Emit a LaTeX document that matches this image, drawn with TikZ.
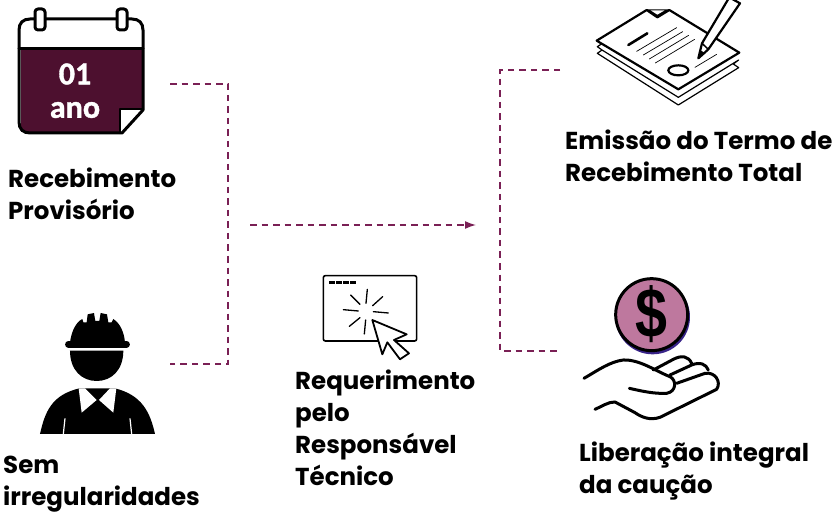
\documentclass[tikz,border=0pt]{standalone}
\usepackage{fontspec}
\setmainfont{Poppins}
\newfontfamily\iconfont[BoldFeatures={FakeBold=1.2}]{Carlito}
\usetikzlibrary{arrows.meta}
\definecolor{wine}{HTML}{4D102F}
\definecolor{dash}{HTML}{7A2055}
\definecolor{coin}{HTML}{BE789E}
\tikzset{
  label/.style={anchor=north west,align=left,inner sep=0pt,font=\fontsize{24.5}{32}\selectfont\bfseries,text=black},
  conn/.style={draw=dash,line width=1.5pt,dash pattern=on 6.5pt off 5pt},
  icon/.style={draw=black,line width=3pt,line join=round,line cap=round},
  thin icon/.style={draw=black,line width=1pt,line cap=round},
  z3/.style={x=0.3333pt,y=-0.3333pt}
}
\begin{document}
\begin{tikzpicture}[x=1pt,y=-1pt]
\useasboundingbox (0,0) rectangle (838,513);
\fill[white] (0,0) rectangle (838,513);

% connectors
\coordinate (la) at (170,84);
\coordinate (lb) at (228,84);
\coordinate (lc) at (228,364);
\coordinate (ld) at (170,364);
\coordinate (ma) at (250,225);
\coordinate (mb) at (476,225);
\coordinate (ra) at (560,70);
\coordinate (rb) at (500,70);
\coordinate (rc) at (500,351);
\coordinate (rd) at (560,351);
\draw[conn] (la) -- (lb) -- (lc) -- (ld);
\draw[conn,-{Latex[length=11pt,width=8pt]}] (ma) -- (mb);
\draw[conn] (ra) -- (rb) -- (rc) -- (rd);

% calendar
\fill[wine] (21,50) -- (142,50) -- (142,110) -- (122,132) -- (21,132) -- cycle;
\fill[white] (120,109) -- (142,109) -- (122,132) -- (120,132) -- cycle;
\draw[icon] (19,30) .. controls (19,23) and (23,19) .. (30,19) -- (132,19) .. controls (139,19) and (143,23) .. (143,30) -- (143,110) -- (122,133) -- (30,133) .. controls (23,133) and (19,129) .. (19,122) -- cycle;
\draw[icon] (19,49) -- (143,49);
\draw[icon,line width=2.2pt] (120,133) -- (120,109) -- (143,109);
\draw[icon,fill=white,rounded corners=3pt] (35,9) rectangle (45,30);
\draw[icon,fill=white,rounded corners=3pt] (117,9) rectangle (127,30);
\node[font=\iconfont\fontsize{32}{32}\selectfont\bfseries,text=white,inner sep=0pt] (cal1) at (75,74) {01};
\node[font=\iconfont\fontsize{32}{32}\selectfont\bfseries,text=white,inner sep=0pt] (cal2) at (75,110) {ano};

% worker
\begin{scope}[shift={(30,305)},z3]
\fill[black] (120,112) .. controls (125,75) and (140,50) .. (157,42) -- (160,52) -- (170,52) -- (173,28) -- (192,24) -- (196,48) -- (208,48) -- (212,24) -- (231,28) -- (235,52) -- (245,52) -- (250,42) .. controls (270,55) and (282,80) .. (285,112) -- cycle;
\draw[black,line width=6.5pt,line cap=round] (115,118) -- (290,118);
\fill[black] (120,137) -- (280,137) .. controls (280,195) and (245,228) .. (200,228) .. controls (155,228) and (120,195) .. (120,137) -- cycle;
\fill[black] (30,387) .. controls (45,320) and (65,270) .. (148,250) -- (255,250) .. controls (335,270) and (360,320) .. (375,387) -- cycle;
\fill[white] (146,250) -- (165,250) -- (200,285) -- (155,323) -- cycle;
\fill[white] (259,250) -- (240,250) -- (207,285) -- (250,323) -- cycle;
\draw[white,line width=1.2pt] (105,340) -- (100,387);
\draw[white,line width=1.2pt] (300,340) -- (305,387);
\end{scope}

% browser
\begin{scope}[shift={(310,265)},z3]
\draw[black,line width=1.6pt,rounded corners=2pt] (40,32) rectangle (320,228);
\foreach \i in {58,79,100,121}{\fill[black] (\i,47) rectangle +(17,11);}
\draw[thin icon,line width=1.3pt] (172,73) -- (168,115);
\draw[thin icon,line width=1.3pt] (122,90) -- (150,118);
\draw[thin icon,line width=1.3pt] (218,95) -- (188,122);
\draw[thin icon,line width=1.3pt] (100,134) -- (145,138);
\draw[thin icon,line width=1.3pt] (190,140) -- (235,144);
\draw[thin icon,line width=1.3pt] (118,184) -- (150,158);
\draw[thin icon,line width=1.3pt] (167,165) -- (163,207);
\draw[black,fill=white,line width=1.8pt,line join=round] (187,165) -- (290,208) -- (252,225) -- (297,265) -- (270,283) -- (232,232) -- (217,268) -- cycle;
\end{scope}

% document
\begin{scope}[shift={(580,0)},z3]
\draw[black,line width=1.2pt,line join=round] (66,131) -- (52,140) -- (66,150) -- (52,160) -- (295,315) -- (476,203) -- (460,192) -- (476,180) -- (295,292) -- (66,150);
\draw[black,fill=white,line width=2.2pt,line join=round] (50,122) -- (200,30) -- (232,52) -- (268,30) -- (478,158) -- (295,268) -- cycle;
\fill[black] (198,28) -- (270,28) -- (232,52) -- cycle;
\fill[white] (212,31) -- (254,31) -- (232,44) -- cycle;
\draw[black,line width=2.6pt,line cap=round] (145,135) -- (202,100);
\draw[thin icon,line width=.7pt] (170,154) -- (290,83);
\draw[thin icon,line width=.7pt] (190,165) -- (308,95);
\draw[thin icon,line width=.7pt] (208,177) -- (326,106);
\draw[thin icon,line width=.7pt] (226,189) -- (344,118);
\draw[thin icon,line width=.7pt] (345,202) -- (410,163);
\draw[black,line width=2.2pt] (295,211) ellipse[x radius=30,y radius=15];
\draw[black,fill=white,line width=2.2pt,line join=round] (355,175) -- (366,130) -- (448,-8) -- (480,10) -- (385,148) -- cycle;
\draw[black,line width=1.5pt] (366,130) -- (385,148);
\fill[black] (355,175) -- (360,150) -- (376,160) -- cycle;
\end{scope}

% money
\begin{scope}[shift={(570,270)},z3]
\fill[blue!50!black!70!coin] (248,141) circle[radius=112];
\draw[black,fill=coin,line width=3pt] (245,134) circle[radius=108];
\node[font=\fontspec{Liberation Sans}\bfseries\fontsize{70}{70}\selectfont,text=black,inner sep=0pt,transform shape,xscale=.82] (dollar) at (245,133) {\$};
\draw[icon,line width=3pt] (42,325) .. controls (85,300) and (120,275) .. (160,270) .. controls (210,268) and (260,305) .. (300,320) .. controls (320,330) and (320,365) .. (290,370) .. controls (250,372) and (210,362) .. (178,355);
\draw[icon,line width=3pt] (250,300) -- (310,268) .. controls (335,255) and (355,258) .. (365,280);
\draw[icon,line width=3pt] (300,315) -- (365,285) .. controls (390,275) and (408,282) .. (415,300);
\draw[icon,line width=3pt] (320,340) -- (405,310) .. controls (435,305) and (455,335) .. (440,358) -- (270,442) .. controls (240,452) and (215,442) .. (195,428) -- (135,396) .. controls (115,395) and (95,410) .. (75,418);
\end{scope}

% labels
\node[label] (t1) at (8,168) {Recebimento\\Provisório};
\node[label] (t2) at (3,456) {Sem\\irregularidades};
\node[label] (t3) at (295,370) {Requerimento\\pelo\\Responsável\\Técnico};
\node[label] (t4) at (565,130) {Emissão do Termo de\\Recebimento Total};
\node[label] (t5) at (579,442) {Liberação integral\\da caução};
\end{tikzpicture}
\end{document}
